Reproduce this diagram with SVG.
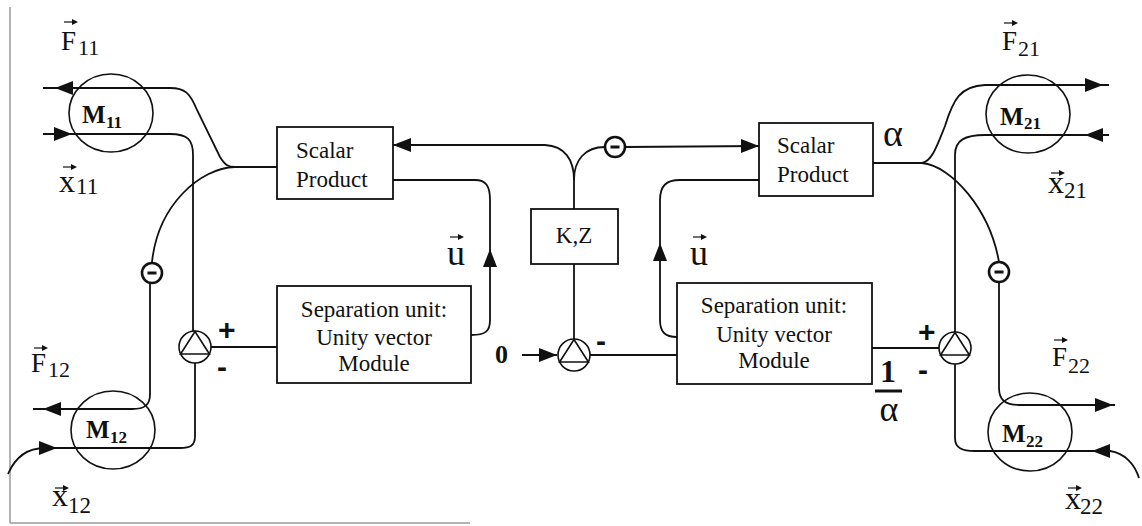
<svg xmlns="http://www.w3.org/2000/svg" xmlns:xlink="http://www.w3.org/1999/xlink" width="1142" height="526" viewBox="0 0 1142 526">
  <style>
    .ln { fill: none; stroke: #111; stroke-width: 1.8; }
    .box { fill: #fff; stroke: #111; stroke-width: 1.8; }
    .mod { fill: none; stroke: #111; stroke-width: 1.6; }
    .neg { fill: #fff; stroke: #111; stroke-width: 2.6; }
    .negbar { stroke: #111; stroke-width: 3; }
    .sum { fill: #fff; stroke: #111; stroke-width: 1.6; }
    .t { font-family: "Liberation Serif", "Times New Roman", serif; fill: #111; }
    .blk { font-family: "Liberation Serif", "Times New Roman", serif; font-size: 23px; fill: #111; }
    .mlab { font-family: "Liberation Serif", "Times New Roman", serif; font-weight: bold; font-size: 25px; fill: #111; }
    .msub { font-family: "Liberation Serif", "Times New Roman", serif; font-weight: bold; font-size: 17px; fill: #111; }
    .sign { font-family: "Liberation Sans", Arial, sans-serif; font-weight: bold; font-size: 30px; fill: #111; }
    .frame { stroke: #9a9a9a; stroke-width: 1.5; fill: none; }
    .ah { fill: #111; }
  </style>
  <defs>
    <!-- filled arrowhead, tip at origin, pointing along +x -->
    <path id="ah" class="ah" d="M0,0 L-18,-7 L-18,7 Z"/>
    <!-- small vector arrow drawn over a symbol -->
    <g id="vec">
      <line x1="0" y1="0" x2="10" y2="0" stroke="#111" stroke-width="1.2"/>
      <path d="M14,0 L8,-3 L8,3 Z" fill="#111"/>
    </g>
    <!-- summation node: circle with inscribed triangle -->
    <g id="sumnode">
      <circle class="sum" cx="0" cy="0" r="16"/>
      <path d="M-14.4,7 L14.4,7 L0,-15.5 Z" fill="none" stroke="#111" stroke-width="1.6"/>
    </g>
    <!-- inverting node -->
    <g id="negnode">
      <circle class="neg" cx="0" cy="0" r="10"/>
      <line class="negbar" x1="-4.5" y1="0" x2="4.5" y2="0"/>
    </g>
  </defs>

  <rect width="1142" height="526" fill="#fff"/>

  <!-- page frame -->
  <g id="frame">
    <line class="frame" x1="10" y1="7" x2="10" y2="523"/>
    <line class="frame" x1="10" y1="523" x2="470" y2="523"/>
  </g>

  <!-- connectors -->
  <g id="connectors">
    <!-- left upper module: force out, position in -->
    <path class="ln" d="M43,88 L170,88 C185,88 190,93 197,110 L220,157 C225,165 228,167 235,167 L277,167"/>
    <path class="ln" d="M235,167 C200,168 158,205 152,262"/>
    <path class="ln" d="M43,134 L170,134 C188,134 193,140 193,155 L193,331"/>
    <!-- left lower module -->
    <path class="ln" d="M150,283 L150,394 C150,405 145,409 132,409 L33,409"/>
    <path class="ln" d="M195,363 L195,436 C195,446 190,448 180,448 L45,448 C25,448 14,460 8,474"/>
    <line class="ln" x1="211" y1="347" x2="277" y2="347"/>
    <!-- left unity vector feedback -->
    <path class="ln" d="M393,180 L475,180 C486,180 490,186 490,200 L490,320 C490,331 486,335 471,335"/>
    <!-- K,Z output split -->
    <path class="ln" d="M574,209 L574,180 C574,160 565,146 545,145 L393,145"/>
    <path class="ln" d="M574,180 C574,160 585,147 605,147"/>
    <line class="ln" x1="625" y1="147" x2="759" y2="146"/>
    <line class="ln" x1="574" y1="264" x2="574" y2="339"/>
    <line class="ln" x1="522" y1="355" x2="557" y2="355"/>
    <line class="ln" x1="590" y1="355" x2="677" y2="355"/>
    <!-- right unity vector feedback -->
    <path class="ln" d="M677,337 C665,337 660,332 660,320 L660,200 C660,186 666,180 680,180 L759,180"/>
    <!-- right upper module -->
    <path class="ln" d="M873,163 L922,163"/>
    <path class="ln" d="M922,163 C932,161 937,146 945,126 C953,100 960,86 985,85 L1109,85"/>
    <path class="ln" d="M922,163 C952,166 990,210 999,262"/>
    <path class="ln" d="M1109,135 L985,135 C965,135 955,140 955,155 L955,332"/>
    <!-- right lower module -->
    <path class="ln" d="M999,283 L999,388 C999,400 1005,405 1020,405 L1115,405"/>
    <path class="ln" d="M955,364 L955,438 C955,448 962,451 975,451 L1110,451 C1125,453 1135,465 1139,478"/>
    <line class="ln" x1="872" y1="348" x2="939" y2="348"/>

    <!-- arrowheads -->
    <use href="#ah" transform="translate(55,88) rotate(180)"/>
    <use href="#ah" transform="translate(72,134)"/>
    <use href="#ah" transform="translate(43,409) rotate(180)"/>
    <use href="#ah" transform="translate(57,448)"/>
    <use href="#ah" transform="translate(393,145) rotate(180)"/>
    <use href="#ah" transform="translate(490,249) rotate(-90)"/>
    <use href="#ah" transform="translate(557,355)"/>
    <use href="#ah" transform="translate(759,146)"/>
    <use href="#ah" transform="translate(660,243) rotate(-90)"/>
    <use href="#ah" transform="translate(1103,85)"/>
    <use href="#ah" transform="translate(1085,135) rotate(180)"/>
    <use href="#ah" transform="translate(1113,405)"/>
    <use href="#ah" transform="translate(1092,451) rotate(180)"/>
  </g>

  <!-- modules -->
  <g id="M11">
    <ellipse class="mod" cx="111" cy="113" rx="42" ry="39"/>
    <text class="mlab" x="82" y="123">M</text><text class="msub" x="106" y="128">11</text>
  </g>
  <g id="M12">
    <ellipse class="mod" cx="113" cy="430" rx="42" ry="39"/>
    <text class="mlab" x="86" y="438">M</text><text class="msub" x="110" y="443">12</text>
  </g>
  <g id="M21">
    <ellipse class="mod" cx="1028" cy="114" rx="42" ry="39"/>
    <text class="mlab" x="1000" y="125">M</text><text class="msub" x="1024" y="129">21</text>
  </g>
  <g id="M22">
    <ellipse class="mod" cx="1030" cy="432" rx="42" ry="39"/>
    <text class="mlab" x="1002" y="442">M</text><text class="msub" x="1026" y="447">22</text>
  </g>

  <!-- processing blocks -->
  <g id="scalar-left">
    <rect class="box" x="277" y="127" width="116" height="72"/>
    <text class="blk" x="296" y="158">Scalar</text>
    <text class="blk" x="296" y="187">Product</text>
  </g>
  <g id="scalar-right">
    <rect class="box" x="759" y="123" width="114" height="73"/>
    <text class="blk" x="777" y="153">Scalar</text>
    <text class="blk" x="777" y="182">Product</text>
  </g>
  <g id="separation-left">
    <rect class="box" x="277" y="286" width="194" height="97"/>
    <text class="blk" x="374" y="317" text-anchor="middle">Separation unit:</text>
    <text class="blk" x="374" y="345" text-anchor="middle">Unity vector</text>
    <text class="blk" x="374" y="371" text-anchor="middle">Module</text>
  </g>
  <g id="separation-right">
    <rect class="box" x="677" y="283" width="195" height="101"/>
    <text class="blk" x="774" y="313" text-anchor="middle">Separation unit:</text>
    <text class="blk" x="774" y="342" text-anchor="middle">Unity vector</text>
    <text class="blk" x="774" y="368" text-anchor="middle">Module</text>
  </g>
  <g id="KZ">
    <rect class="box" x="531" y="209" width="87" height="55"/>
    <text class="blk" x="574" y="243" text-anchor="middle">K,Z</text>
  </g>

  <!-- summing and inverting nodes -->
  <g id="sum-left"><use href="#sumnode" transform="translate(195,347)"/></g>
  <g id="sum-center"><use href="#sumnode" transform="translate(574,355)"/></g>
  <g id="sum-right"><use href="#sumnode" transform="translate(955,348)"/></g>
  <g id="neg-left"><use href="#negnode" transform="translate(152,273)"/></g>
  <g id="neg-center"><use href="#negnode" transform="translate(615,147)"/></g>
  <g id="neg-right"><use href="#negnode" transform="translate(999,272)"/></g>

  <!-- signal labels -->
  <g id="labels">
    <use href="#vec" x="64" y="22"/>
    <text class="t" font-size="27" x="61" y="50">F</text><text class="t" font-size="22" x="78" y="55">11</text>
    <use href="#vec" x="63" y="167"/>
    <text class="t" font-size="32" x="59" y="192">x</text><text class="t" font-size="23" x="76" y="194">11</text>
    <use href="#vec" x="34" y="348"/>
    <text class="t" font-size="27" x="31" y="372">F</text><text class="t" font-size="22" x="48" y="377">12</text>
    <use href="#vec" x="55" y="488"/>
    <text class="t" font-size="32" x="52" y="506">x</text><text class="t" font-size="23" x="68" y="513">12</text>
    <use href="#vec" x="1004" y="23"/>
    <text class="t" font-size="27" x="1002" y="50">F</text><text class="t" font-size="22" x="1018" y="56">21</text>
    <use href="#vec" x="1051" y="173"/>
    <text class="t" font-size="32" x="1048" y="193">x</text><text class="t" font-size="23" x="1064" y="198">21</text>
    <use href="#vec" x="1054" y="340"/>
    <text class="t" font-size="27" x="1052" y="366">F</text><text class="t" font-size="22" x="1068" y="373">22</text>
    <use href="#vec" x="1068" y="488"/>
    <text class="t" font-size="32" x="1065" y="509">x</text><text class="t" font-size="23" x="1080" y="514">22</text>

    <use href="#vec" x="450" y="237"/>
    <text class="t" font-size="36" x="447" y="265">u</text>
    <use href="#vec" x="693" y="237"/>
    <text class="t" font-size="36" x="690" y="265">u</text>

    <text class="t" font-size="38" x="883" y="146">α</text>
    <text class="t" font-size="32" font-weight="bold" x="888" y="382" text-anchor="middle">1</text>
    <line x1="875" y1="391" x2="902" y2="391" stroke="#111" stroke-width="3"/>
    <text class="t" font-size="36" x="889" y="421" text-anchor="middle">α</text>
    <text class="t" font-size="26" font-weight="bold" x="495" y="363">0</text>

    <text class="sign" x="218" y="340">+</text>
    <text class="sign" x="217" y="377">-</text>
    <text class="sign" font-size="22" x="596" y="351">-</text>
    <text class="sign" x="918" y="342">+</text>
    <text class="sign" x="918" y="380">-</text>
  </g>
</svg>
